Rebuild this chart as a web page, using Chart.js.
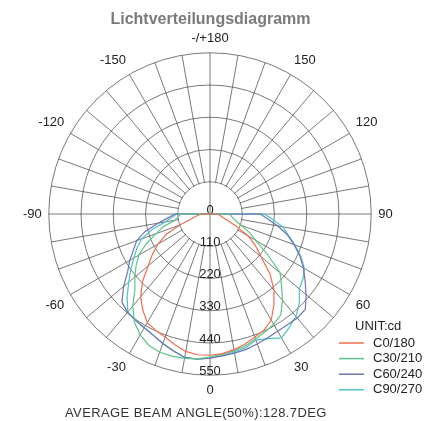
<!DOCTYPE html>
<html>
<head>
<meta charset="utf-8">
<script src="https://cdn.jsdelivr.net/npm/chart.js@4.4.0/dist/chart.umd.min.js"></script>
<style>
  html, body { margin: 0; padding: 0; background: #fff; }
  #wrap { width: 432px; height: 421px; }
</style>
</head>
<body>
<div id="wrap"><canvas id="chart"></canvas></div>
<script>
// gamma angle (deg from nadir) of each reading in a half plane
const gamma = [0, 5, 10, 15, 20, 25, 30, 35, 40, 45, 50, 55, 60, 65, 70, 75, 80, 85, 90];

// luminous intensity in cd
const c0   = [482, 478, 470, 460, 447, 437, 418, 380, 340, 290, 227, 190, 150, 100, 65, 45, 36, 30, 25];
const c180 = [482, 482, 476, 462, 447, 438, 428, 400, 368, 326, 275, 240, 205, 165, 108, 68, 50, 38, 30];
const c30  = [488, 480, 474, 466, 454, 444, 434, 421, 385, 345, 312, 238, 180, 148, 114, 92, 80, 72, 66];
const c210 = [488, 496, 500, 502, 502, 494, 476, 450, 410, 362, 335, 308, 280, 240, 196, 163, 120, 110, 100];
const c60  = [492, 486, 482, 478, 472, 466, 462, 461, 463, 460, 428, 396, 368, 338, 305, 273, 235, 198, 172];
const c240 = [492, 497, 497, 483, 470, 457, 448, 443, 438, 425, 385, 343, 316, 288, 266, 229, 180, 142, 120];
const c90  = [492, 484, 478, 472, 458, 469, 488, 472, 456, 431, 398, 387, 372, 342, 308, 276, 252, 215, 185];
const c270 = [492, 497, 497, 484, 470, 457, 448, 443, 436, 400, 362, 330, 300, 275, 248, 205, 155, 130, 112];

const ringTicks = [0, 110, 220, 330, 440, 550];
const planeNames = ["C0/180", "C30/210", "C60/240", "C90/270"];
const planeColors = ["#f26d50", "#5ec488", "#6e74b3", "#4ec3cd"];
const gridColor = "#555";

// radar categories, clockwise from the top: 180 ... 90 ... 0 ... -90 ... -175
const angleLabels = [];
for (let a = 180; a > -180; a -= 5) angleLabels.push(a);

function plane(right, left) {
  return angleLabels.map(a => {
    const g = Math.abs(a);
    if (g > 90) return 0;
    const i = gamma.indexOf(g);
    return a >= 0 ? right[i] : left[i];
  });
}

const planes = [plane(c0, c180), plane(c30, c210), plane(c60, c240), plane(c90, c270)];

const polarExtras = {
  id: "polarExtras",
  beforeDatasetsDraw(chart) {
    const r = chart.scales.r;
    const c = chart.ctx;
    const inner = r.getDistanceFromCenterForValue(ringTicks[1]);
    c.save();
    // spokes start at the first ring, only the axes cross the centre
    c.fillStyle = "#fff";
    c.beginPath();
    c.arc(r.xCenter, r.yCenter, inner - 0.7, 0, Math.PI * 2);
    c.fill();
    c.strokeStyle = gridColor;
    c.lineWidth = 0.8;
    c.beginPath();
    c.moveTo(r.xCenter - inner, r.yCenter);
    c.lineTo(r.xCenter + inner, r.yCenter);
    c.moveTo(r.xCenter, r.yCenter - inner);
    c.lineTo(r.xCenter, r.yCenter + inner);
    c.stroke();
    // ring values down the 0 axis
    c.fillStyle = "#222";
    c.font = '13px "Liberation Sans"';
    c.textAlign = "center";
    c.textBaseline = "middle";
    ringTicks.forEach(v => {
      c.fillText(String(v), r.xCenter, r.yCenter + r.getDistanceFromCenterForValue(v) - 4);
    });
    c.restore();
  },
  afterDraw(chart) {
    const c = chart.ctx;
    c.save();
    c.font = '13px "Liberation Sans"';
    c.textBaseline = "middle";
    c.textAlign = "left";
    c.fillStyle = "#222";
    c.fillText("UNIT:cd", 355, 326);
    chart.data.datasets.forEach((ds, i) => {
      const y = 343 + i * 15.6;
      c.strokeStyle = ds.borderColor;
      c.lineWidth = 1.5;
      c.beginPath();
      c.moveTo(339, y);
      c.lineTo(364, y);
      c.stroke();
      c.fillText(ds.label, 373, y);
    });
    c.letterSpacing = "0.4px";
    c.fillStyle = "#333";
    c.fillText("AVERAGE BEAM ANGLE(50%):128.7DEG", 65, 413);
    c.restore();
  }
};

new Chart(document.getElementById("chart"), {
  type: "radar",
  data: {
    labels: angleLabels,
    datasets: planes.map((d, i) => ({
      label: planeNames[i],
      data: d,
      borderColor: planeColors[i],
      backgroundColor: planeColors[i],
      fill: false
    }))
  },
  options: {
    responsive: true,
    maintainAspectRatio: false,
    animation: false,
    layout: { padding: { top: 0, left: 1, right: 12, bottom: 23 } },
    elements: {
      point: { radius: 0, hoverRadius: 0 },
      line: { borderWidth: 1.2, tension: 0 }
    },
    plugins: {
      legend: { display: false },
      tooltip: { enabled: false },
      title: {
        display: true,
        text: "Lichtverteilungsdiagramm",
        color: "#7a7a7a",
        font: { family: "Liberation Sans", size: 16, weight: "bold" },
        padding: { top: 10, bottom: 1 }
      }
    },
    scales: {
      r: {
        min: 0,
        max: 550,
        ticks: { stepSize: 110, display: false },
        grid: { circular: true, color: gridColor, lineWidth: 0.8 },
        angleLines: {
          color: ctx => (ctx.index % 2 === 0 ? gridColor : "transparent"),
          lineWidth: 0.8
        },
        pointLabels: {
          padding: 7,
          color: "#222",
          font: { family: "Liberation Sans", size: 13 },
          callback: label => (label % 30 === 0 ? (Math.abs(label) === 180 ? "-/+180" : String(label)) : "")
        }
      }
    }
  },
  plugins: [polarExtras]
});
</script>
</body>
</html>
